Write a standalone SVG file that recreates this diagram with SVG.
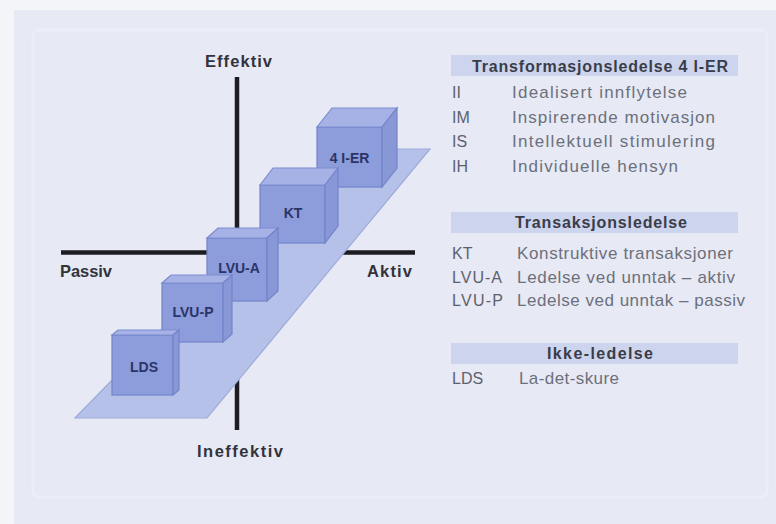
<svg xmlns="http://www.w3.org/2000/svg" width="776" height="524" viewBox="0 0 776 524">
  <defs>
    <style>
      .axis { stroke: #1c1c22; stroke-width: 4.5; fill: none; }
      .axlbl { font-family: "Liberation Sans", Arial, sans-serif; font-weight: bold; font-size: 16.5px; fill: #33333c; }
      .plane { fill: #b5c1e8; stroke: #9eabdc; stroke-width: 1.2; }
      .front { fill: #8d9cdb; stroke: #7484cb; stroke-width: 1.2; }
      .top { fill: #a6b2e6; stroke: #7c8bcf; stroke-width: 1.2; }
      .side { fill: #8897d6; stroke: #7484cb; stroke-width: 1.2; }
      .clbl { font-family: "Liberation Sans", Arial, sans-serif; font-weight: bold; font-size: 14px; fill: #2b3466; text-anchor: middle; }
      .band { fill: #cdd4ee; }
      .head { font-family: "Liberation Sans", Arial, sans-serif; font-weight: bold; font-size: 16px; fill: #3a3d48; text-anchor: middle; }
      .code { font-family: "Liberation Sans", Arial, sans-serif; font-size: 16px; fill: #5d616d; }
      .desc { font-family: "Liberation Sans", Arial, sans-serif; font-size: 17px; fill: #6c707c; }
    </style>
  </defs>

  <!-- page and panel -->
  <rect x="0" y="0" width="776" height="524" fill="#f4f5f9"/>
  <rect x="14" y="10" width="762" height="514" fill="#e7e9f4"/>
  <rect x="33" y="30" width="734" height="467" rx="6" fill="none" stroke="#eceef7" stroke-width="3"/>

  <!-- quadrant axes -->
  <g id="axes">
    <line class="axis" x1="237" y1="77" x2="237" y2="430"/>
    <line class="axis" x1="61" y1="252.5" x2="415" y2="252.5"/>
    <text class="axlbl" x="205" y="67" textLength="67">Effektiv</text>
    <text class="axlbl" x="197" y="457" textLength="86">Ineffektiv</text>
    <text class="axlbl" x="60" y="277" textLength="52">Passiv</text>
    <text class="axlbl" x="367" y="277" textLength="45">Aktiv</text>
  </g>

  <!-- slanted base plane -->
  <g id="plane">
    <polygon class="plane" points="338,149 430,149 207,418 75,418"/>
  </g>

  <!-- style blocks, back to front -->
  <g id="cube-4ier">
    <rect class="front" x="317" y="127" width="65" height="60"/>
    <polygon class="top" points="317,127 332,108 397,108 382,127"/>
    <polygon class="side" points="382,127 397,108 397,168 382,187"/>
    <text class="clbl" x="349.5" y="163">4 I-ER</text>
  </g>
  <g id="cube-kt">
    <rect class="front" x="260" y="185" width="65" height="58"/>
    <polygon class="top" points="260,185 273,168 338,168 325,185"/>
    <polygon class="side" points="325,185 338,168 338,226 325,243"/>
    <text class="clbl" x="293" y="218">KT</text>
  </g>
  <g id="cube-lvua">
    <rect class="front" x="207" y="238" width="60" height="63"/>
    <polygon class="top" points="207,238 218,228 278,228 267,238"/>
    <polygon class="side" points="267,238 278,228 278,291 267,301"/>
    <text class="clbl" x="239" y="273">LVU-A</text>
  </g>
  <g id="cube-lvup">
    <rect class="front" x="162" y="283" width="61" height="59"/>
    <polygon class="top" points="162,283 171,275 232,275 223,283"/>
    <polygon class="side" points="223,283 232,275 232,334 223,342"/>
    <text class="clbl" x="193" y="317">LVU-P</text>
  </g>
  <g id="cube-lds">
    <rect class="front" x="112" y="335" width="61" height="60"/>
    <polygon class="top" points="112,335 118,330 179,330 173,335"/>
    <polygon class="side" points="173,335 179,330 179,390 173,395"/>
    <text class="clbl" x="144" y="372">LDS</text>
  </g>

  <!-- legend: transformational leadership -->
  <g id="legend-transformasjon">
    <rect class="band" x="451" y="55" width="287" height="21"/>
    <text class="head" x="600" y="72" textLength="256">Transformasjonsledelse 4 I-ER</text>
    <text class="code" x="452" y="98">II</text>
    <text class="desc" x="512" y="98" textLength="175">Idealisert innflytelse</text>
    <text class="code" x="452" y="123">IM</text>
    <text class="desc" x="512" y="123" textLength="203">Inspirerende motivasjon</text>
    <text class="code" x="452" y="147">IS</text>
    <text class="desc" x="512" y="147" textLength="203">Intellektuell stimulering</text>
    <text class="code" x="452" y="172">IH</text>
    <text class="desc" x="512" y="172" textLength="166">Individuelle hensyn</text>
  </g>

  <!-- legend: transactional leadership -->
  <g id="legend-transaksjon">
    <rect class="band" x="451" y="212" width="287" height="21"/>
    <text class="head" x="601" y="228" textLength="172">Transaksjonsledelse</text>
    <text class="code" x="452" y="259">KT</text>
    <text class="desc" x="517" y="259" textLength="216">Konstruktive transaksjoner</text>
    <text class="code" x="452" y="282.5" textLength="50">LVU-A</text>
    <text class="desc" x="517" y="282.5" textLength="218">Ledelse ved unntak – aktiv</text>
    <text class="code" x="452" y="305.5" textLength="51">LVU-P</text>
    <text class="desc" x="517" y="305.5" textLength="228">Ledelse ved unntak – passiv</text>
  </g>

  <!-- legend: non-leadership -->
  <g id="legend-ikke">
    <rect class="band" x="451" y="343" width="287" height="21"/>
    <text class="head" x="600" y="359" textLength="106">Ikke-ledelse</text>
    <text class="code" x="452" y="384">LDS</text>
    <text class="desc" x="519" y="384" textLength="100">La-det-skure</text>
  </g>
</svg>
